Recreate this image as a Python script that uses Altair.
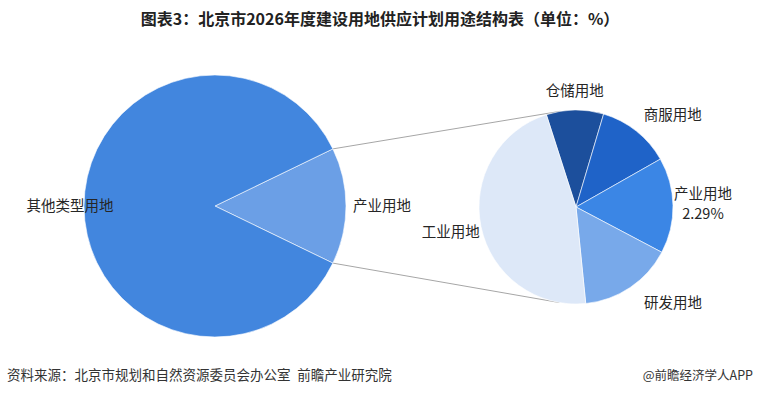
import math
import altair as alt
import pandas as pd

# ---------------- data ----------------
big_names = ["产业用地", "其他类型用地"]
big_values = [14.36, 85.64]

small_names = ["仓储用地", "商服用地", "产业用地", "研发用地", "工业用地"]
small_values = [1.37, 1.75, 2.29, 2.25, 6.70]
small_value_shown = ["产业用地"]  # slice whose value is printed

title_text = "图表3：北京市2026年度建设用地供应计划用途结构表（单位：%）"
source_text = "资料来源：北京市规划和自然资源委员会办公室\u2002前瞻产业研究院"
brand_text = "@前瞻经济学人APP"

# ---------------- style ----------------
W, H = 760, 396
FONT = "Noto Sans CJK SC"
big_colors = ["#6b9fe6", "#4286de"]
small_colors = ["#1c4f9c", "#1f63c8", "#3b86e5", "#78a9ea", "#dde8f8"]
BIG_C, BIG_R = (215, 206), 131
SMALL_C, SMALL_R = (576, 207), 97
SMALL_START_DEG = 342.2

big_df = pd.DataFrame({"name": big_names, "value": big_values,
                       "idx": list(range(len(big_names)))})
big_df["label"] = big_df["name"]
small_df = pd.DataFrame({"name": small_names, "value": small_values,
                         "idx": list(range(len(small_names)))})
small_df["label"] = [n + (f"\n{v:.2f}%" if n in small_value_shown else "")
                     for n, v in zip(small_names, small_values)]

# the linked slice of the big pie is centred on the right side (90°)
big_frac = big_values[0] / sum(big_values)
big_start = math.pi / 2 - math.pi * big_frac
small_start = math.radians(SMALL_START_DEG)


def pie(df, names, colors, center, r, start, labels):
    theta = alt.Theta("value:Q", stack=True,
                      scale=alt.Scale(range=[start, start + 2 * math.pi]))
    base = alt.Chart(df)
    arc = base.mark_arc(radius=r, stroke="white", strokeWidth=0.6).encode(
        theta=theta,
        color=alt.Color("name:N", scale=alt.Scale(domain=names, range=colors),
                        legend=None),
        order=alt.Order("idx:Q"),
        x=alt.value(center[0]), y=alt.value(center[1]),
    )
    layers = [arc]
    for name, rad, dx, dy, align in labels:
        layers.append(
            base.mark_text(radius=rad, dx=dx, dy=dy, align=align,
                           baseline="middle", font=FONT, fontSize=14.5,
                           color="#262626", lineBreak="\n",
                           lineHeight=20).encode(
                theta=theta,
                order=alt.Order("idx:Q"),
                detail="name:N",
                x=alt.value(center[0]), y=alt.value(center[1]),
                text=alt.condition(f"datum.name === '{name}'",
                                   alt.Text("label:N"), alt.value("")),
            )
        )
    return alt.layer(*layers)


big = pie(big_df, big_names, big_colors, BIG_C, BIG_R, big_start, [
    ("其他类型用地", 145, 0, 1, "center"),
    ("产业用地", 167, 0, 1, "center"),
])
small = pie(small_df, small_names, small_colors, SMALL_C, SMALL_R, small_start, [
    ("仓储用地", 115, 0, 0, "center"),
    ("商服用地", 112, -2, -3, "left"),
    ("产业用地", 127, 0, -10, "center"),
    ("研发用地", 118, 2, -1, "left"),
    ("工业用地", 128, 0, 0, "center"),
])


# connector lines: from edges of the linked slice to tangents of the small pie
def edge(center, r, ang):
    return center[0] + r * math.sin(ang), center[1] - r * math.cos(ang)


def tangent(p, c, r, sign):
    dx, dy = c[0] - p[0], c[1] - p[1]
    d = math.hypot(dx, dy)
    ang = math.atan2(dy, dx) + sign * math.asin(r / d)
    L = math.sqrt(d * d - r * r)
    return p[0] + L * math.cos(ang), p[1] + L * math.sin(ang)


p_up = edge(BIG_C, BIG_R, big_start)
p_lo = edge(BIG_C, BIG_R, big_start + 2 * math.pi * big_frac)
q_up = tangent(p_up, SMALL_C, SMALL_R, -1)
q_lo = tangent(p_lo, SMALL_C, SMALL_R, 1)
conn_df = pd.DataFrame({"x": [p_up[0], p_lo[0]], "y": [p_up[1], p_lo[1]],
                        "x2": [q_up[0], q_lo[0]], "y2": [q_up[1], q_lo[1]]})
connectors = alt.Chart(conn_df).mark_rule(color="#a6a6a6", strokeWidth=1).encode(
    x=alt.X("x:Q", scale=None), y=alt.Y("y:Q", scale=None),
    x2="x2:Q", y2="y2:Q",
)

one = pd.DataFrame({"a": [0]})
title = alt.Chart(one).mark_text(
    text=title_text, font=FONT, fontSize=16, fontWeight="bold",
    color="#222222", align="center", baseline="middle",
).encode(x=alt.value(380), y=alt.value(20))
source = alt.Chart(one).mark_text(
    text=source_text, font=FONT, fontSize=13.5, color="#333333",
    align="left", baseline="middle",
).encode(x=alt.value(7), y=alt.value(376))
brand = alt.Chart(one).mark_text(
    text=brand_text, font=FONT, fontSize=12.5, color="#333333",
    align="right", baseline="middle",
).encode(x=alt.value(753), y=alt.value(376))

chart = alt.layer(connectors, big, small, title, source, brand).resolve_scale(
    theta="independent", color="independent"
).properties(
    width=W, height=H, autosize="none", padding=0, background="white"
).configure_view(stroke=None)

chart.save("out.html", embed_options={"renderer": "svg", "actions": False})
